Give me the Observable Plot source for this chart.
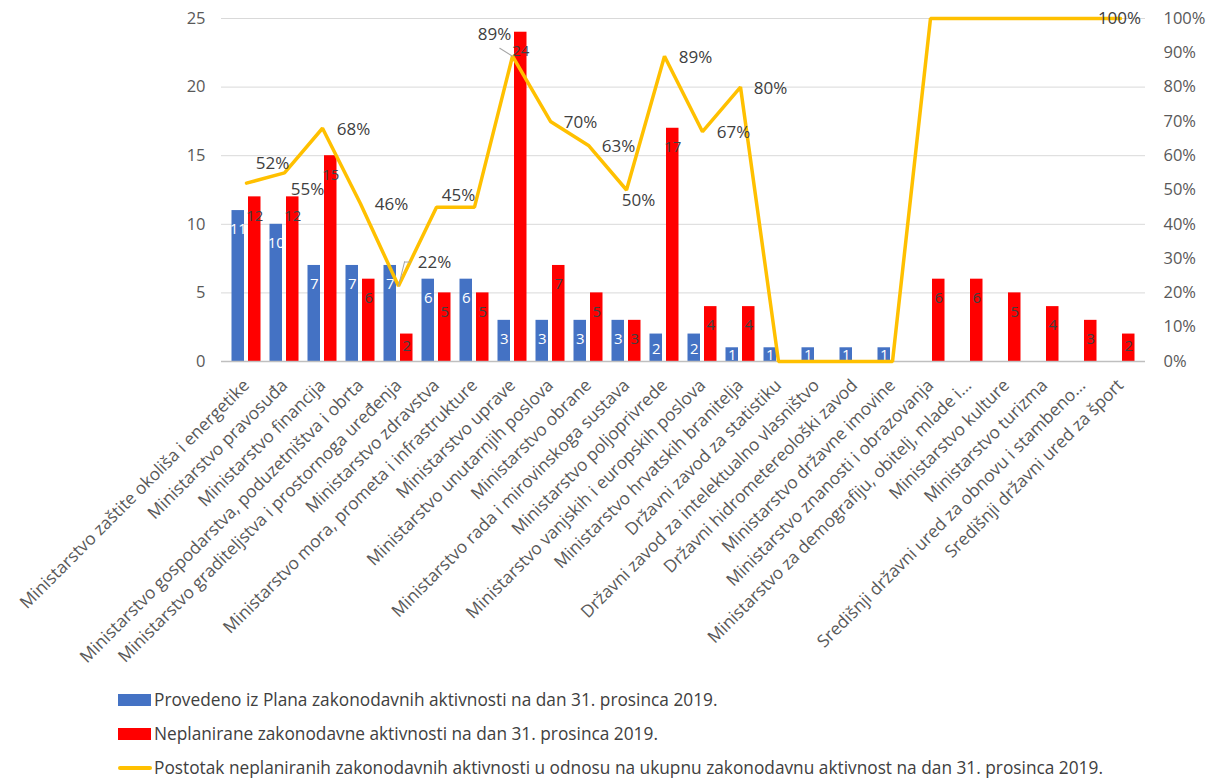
<!DOCTYPE html>
<html>
<head>
<meta charset="utf-8">
<script src="https://cdn.jsdelivr.net/npm/d3@7"></script>
<script src="https://cdn.jsdelivr.net/npm/@observablehq/plot@0.6"></script>
<style>
  html, body { margin: 0; padding: 0; background: #fff; }
  body { width: 1212px; height: 778px; overflow: hidden; font-family: "Open Sans", sans-serif; }
  #chart { position: absolute; left: 0; top: 0; }
  #legend { position: absolute; left: 0; top: 683px; }
  .item { position: relative; height: 34px; line-height: 34px; font-size: 17.3px; color: #404040; white-space: nowrap; }
  .sw { position: absolute; left: 118px; }
  .txt { position: absolute; left: 154px; top: 0; }
</style>
</head>
<body>
<div id="chart"></div>
<div id="legend"></div>
<script>
const categories = [
  "Ministarstvo zaštite okoliša i energetike",
  "Ministarstvo pravosuđa",
  "Ministarstvo financija",
  "Ministarstvo gospodarstva, poduzetništva i obrta",
  "Ministarstvo graditeljstva i prostornoga uređenja",
  "Ministarstvo zdravstva",
  "Ministarstvo mora, prometa i infrastrukture",
  "Ministarstvo uprave",
  "Ministarstvo unutarnjih poslova",
  "Ministarstvo obrane",
  "Ministarstvo rada i mirovinskoga sustava",
  "Ministarstvo poljoprivrede",
  "Ministarstvo vanjskih i europskih poslova",
  "Ministarstvo hrvatskih branitelja",
  "Državni zavod za statistiku",
  "Državni zavod za intelektualno vlasništvo",
  "Državni hidrometereološki zavod",
  "Ministarstvo državne imovine",
  "Ministarstvo znanosti i obrazovanja",
  "Ministarstvo za demografiju, obitelj, mlade i...",
  "Ministarstvo kulture",
  "Ministarstvo turizma",
  "Središnji državni ured za obnovu i stambeno...",
  "Središnji državni ured za šport"
];
const provedeno   = [11, 10, 7, 7, 7, 6, 6, 3, 3, 3, 3, 2, 2, 1, 1, 1, 1, 1, 0, 0, 0, 0, 0, 0];
const neplanirane = [12, 12, 15, 6, 2, 5, 5, 24, 7, 5, 3, 17, 4, 4, 0, 0, 0, 0, 6, 6, 5, 4, 3, 2];
const postotak    = [52, 55, 68, 46, 22, 45, 45, 89, 70, 63, 50, 89, 67, 80, 0, 0, 0, 0, 100, 100, 100, 100, 100, 100];
const seriesNames = [
  "Provedeno iz Plana zakonodavnih aktivnosti na dan 31. prosinca 2019.",
  "Neplanirane zakonodavne aktivnosti na dan 31. prosinca 2019.",
  "Postotak neplaniranih zakonodavnih aktivnosti u odnosu na ukupnu zakonodavnu aktivnost na dan 31. prosinca 2019."
];
const leftTicks = [0, 5, 10, 15, 20, 25];
const rightTicks = [0, 10, 20, 30, 40, 50, 60, 70, 80, 90, 100];

const BLUE = "#4472C4", RED = "#FF0000", YELLOW = "#FFC000";
const data = categories.map((c, i) => ({i, cat: c, prov: provedeno[i], nepl: neplanirane[i], pct: postotak[i]}));
// right axis: 100% corresponds to 25 on the left axis
const pctY = d => d.pct / 100 * 25;

const stick = {draw(context, l) { context.moveTo(0, 0); context.lineTo(0, -l); }};

function pctLabel(idx, dx, dy) {
  return Plot.text(data, {
    filter: d => d.i === idx, x: "cat", y: pctY, text: d => d.pct + "%",
    dx, dy, fill: "#404040", fontSize: 17
  });
}

const chart = Plot.plot({
  width: 1212,
  height: 680,
  marginLeft: 221,
  marginRight: 67,
  marginTop: 18,
  marginBottom: 319,
  style: {fontFamily: "Open Sans, sans-serif", color: "#595959", background: "#fff"},
  x: {domain: categories, padding: 0, label: null},
  y: {domain: [0, 25], label: null},
  marks: [
    Plot.gridY({ticks: leftTicks.filter(t => t > 0), stroke: "#d9d9d9", strokeOpacity: 1}),
    Plot.axisY({anchor: "left", ticks: leftTicks, tickSize: 0, tickPadding: 16, fontSize: 16.5, fill: "#595959", label: null}),
    Plot.axisY({anchor: "right", ticks: rightTicks.map(t => t / 4), tickFormat: d => Math.round(d * 4) + "%", tickSize: 0, tickPadding: 18, fontSize: 16.5, fill: "#595959", label: null}),
    Plot.axisX({tickRotate: -45, tickSize: 0, tickPadding: 21, fontSize: 17.3, fill: "#595959", label: null}),
    Plot.barY(data, {x: "cat", y: "prov", fill: BLUE, insetLeft: 4.5, insetRight: 21}),
    Plot.barY(data, {x: "cat", y: "nepl", fill: RED, insetLeft: 21, insetRight: 4.5}),
    Plot.ruleY([0], {stroke: "#bfbfbf", strokeWidth: 1.5}),
    // bar value labels
    Plot.text(data, {filter: d => d.prov >= 3, x: "cat", y: "prov", text: "prov", dx: -8.25, dy: 19, fill: "#fff", fontSize: 15}),
    Plot.text(data, {filter: d => d.prov > 0 && d.prov < 3, x: "cat", y: d => d.prov / 2, text: "prov", dx: -8.25, dy: 1, fill: "#fff", fontSize: 15}),
    Plot.text(data, {filter: d => d.nepl >= 3, x: "cat", y: "nepl", text: "nepl", dx: 8.25, dy: 19, fill: "#404040", fontSize: 15}),
    Plot.text(data, {filter: d => d.nepl > 0 && d.nepl < 3, x: "cat", y: d => d.nepl / 2, text: "nepl", dx: 8.25, dy: -2, fill: "#404040", fontSize: 15}),
    // percentage line
    Plot.line(data, {x: "cat", y: pctY, stroke: YELLOW, strokeWidth: 3.5, strokeLinejoin: "miter"}),
    // leader lines
    Plot.vector(data, {filter: d => d.i === 4, x: "cat", y: pctY, length: 25, rotate: 14, anchor: "start", shape: stick, stroke: "#a6a6a6", strokeWidth: 1}),
    Plot.vector(data, {filter: d => d.i === 4, x: "cat", y: pctY, dx: 6, dy: -24, length: 6, rotate: 90, anchor: "start", shape: stick, stroke: "#a6a6a6", strokeWidth: 1}),
    Plot.vector(data, {filter: d => d.i === 7, x: "cat", y: pctY, length: 15, rotate: -58, anchor: "start", shape: stick, stroke: "#a6a6a6", strokeWidth: 1}),
    // percentage labels
    pctLabel(0, 26, -20),
    pctLabel(1, 23, 17),
    pctLabel(2, 31, 1),
    pctLabel(3, 31, 1),
    pctLabel(4, 36, -23),
    pctLabel(5, 22, -12),
    pctLabel(7, -18, -22),
    pctLabel(8, 30, 1),
    pctLabel(9, 30, 1),
    pctLabel(10, 12, 11),
    pctLabel(11, 31, 1),
    pctLabel(12, 31, 1),
    pctLabel(13, 30, 1),
    pctLabel(23, -1, 0)
  ]
});
document.getElementById("chart").appendChild(chart);

// legend
const legend = document.getElementById("legend");
const swatches = [
  `<div class="sw" style="top:11px;width:33px;height:12px;background:${BLUE}"></div>`,
  `<div class="sw" style="top:11px;width:33px;height:12px;background:${RED}"></div>`,
  `<div class="sw" style="top:15px;width:34px;height:4px;border-radius:2px;background:${YELLOW}"></div>`
];
seriesNames.forEach((name, i) => {
  const item = document.createElement("div");
  item.className = "item";
  item.innerHTML = swatches[i] + `<span class="txt">${name}</span>`;
  legend.appendChild(item);
});
</script>
</body>
</html>
